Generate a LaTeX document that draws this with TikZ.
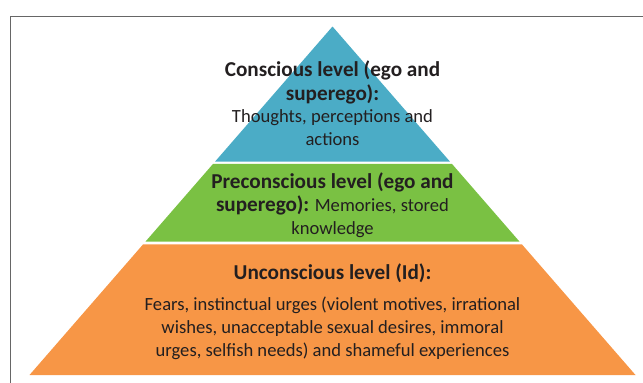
\documentclass[tikz,border=0pt]{standalone}
\usepackage{fontspec}
\setmainfont{Carlito}
\usepackage{xcolor}
\usetikzlibrary{positioning, calc}
\definecolor{consblue}{HTML}{4BACC6}
\definecolor{pregreen}{HTML}{7AC143}
\definecolor{unorange}{HTML}{F79646}
\definecolor{txtgray}{HTML}{231F20}
\newcommand{\headfont}{\fontsize{21.2}{24}\selectfont\bfseries}
\tikzstyle{levelhead} = [inner sep=0pt, align=center, text=txtgray, font=\headfont]
\tikzstyle{leveltext} = [inner sep=0pt, align=center, text=txtgray, font=\fontsize{18.6}{23}\selectfont]
\tikzstyle{frameline} = [draw=gray!80!black, line width=1.3pt]

\begin{document}
\begin{tikzpicture}[x=1pt, y=-1pt]
            \useasboundingbox (0,0) rectangle (643,383);
            \draw[frameline] (643,16.7) -- (10.8,16.7) -- (10.8,383);
            % pyramid corners
            \coordinate (apex) at (332.5,26.5);
            \coordinate (bl) at (29.5,375);
            \coordinate (br) at (635.5,375);
            \fill[consblue] (apex) -- ($(apex)!0.3874!(bl)$) -- ($(apex)!0.3874!(br)$) -- cycle;
            \fill[pregreen] ($(apex)!0.3945!(bl)$) -- ($(apex)!0.6175!(bl)$) -- ($(apex)!0.6175!(br)$) -- ($(apex)!0.3945!(br)$) -- cycle;
            \fill[unorange] ($(apex)!0.625!(bl)$) -- (bl) -- (br) -- ($(apex)!0.625!(br)$) -- cycle;
            
            \node[levelhead] (conshead) at (332.5,82) {Conscious level (ego and\\superego):};
            \node[leveltext] (constext) at (332.5,127.5) {Thoughts, perceptions and\\actions};
            \node[leveltext] (pretext) at (332.5,205.5) {{\headfont Preconscious level (ego and}\\{\headfont superego):} Memories, stored\\knowledge};
            \node[levelhead] (unhead) at (332.5,273.5) {Unconscious level (Id):};
            \node[leveltext] (untext) at (332.5,328.5) {Fears, instinctual urges (violent motives, irrational\\wishes, unacceptable sexual desires, immoral\\urges, selfish needs) and shameful experiences};
        \end{tikzpicture}
\end{document}
